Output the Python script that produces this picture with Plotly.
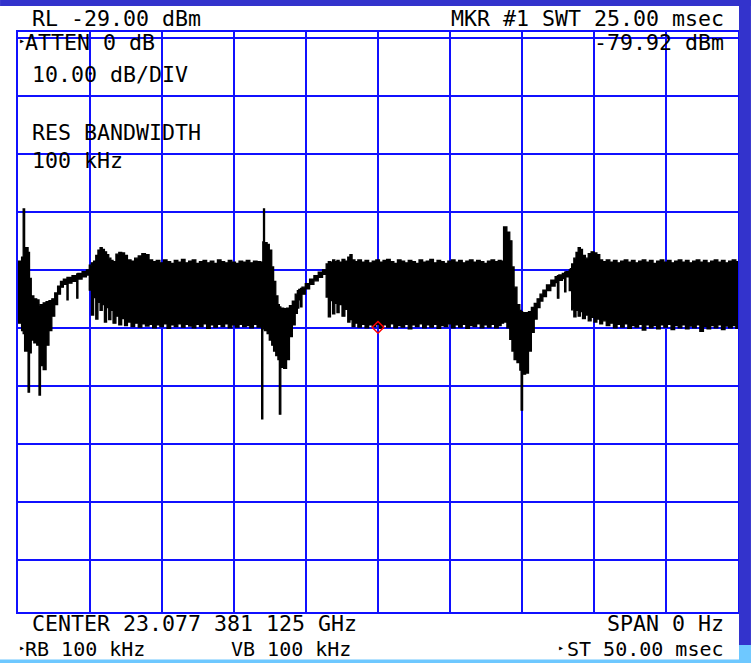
import plotly.graph_objects as go

ref_level_dbm = -29.0
db_per_div = 10.0
sweep_ms = 50.0
marker_t_ms = 25.0
marker_dbm = -79.92

# trace envelope: time (ms), max and min of the displayed trace (dBm)
t_ms = [
    0.00, 0.25, 0.36, 0.46, 0.70, 0.80, 0.92, 1.10, 1.30, 1.46, 1.56, 1.75, 1.95,
    2.15, 2.35, 2.55, 2.75, 2.95, 3.15, 3.40, 3.48, 3.75, 4.08, 4.16, 4.45, 4.75,
    4.95, 5.10, 5.25, 5.40, 5.55, 5.70, 5.85, 6.00, 6.15, 6.30, 6.45, 6.60, 6.80,
    7.00, 7.20, 7.40, 7.60, 7.85, 8.10, 8.35, 8.60, 8.85, 9.10, 9.35, 9.60, 9.85,
    10.10, 10.35, 10.60, 10.85, 11.10, 11.35, 11.60, 11.85, 12.10, 12.35, 12.60,
    12.85, 13.10, 13.35, 13.60, 13.85, 14.10, 14.35, 14.60, 14.85, 15.10, 15.35,
    15.60, 15.85, 16.10, 16.35, 16.60, 16.85, 16.92, 17.00, 17.05, 17.12, 17.30,
    17.45,
    17.62, 17.75, 17.90, 18.05, 18.15, 18.25, 18.45, 18.65, 18.85, 19.05, 19.25,
    19.40, 19.50, 19.62, 19.72, 19.95, 20.25, 20.55, 20.85, 21.15,
    21.40, 21.55, 21.70, 21.85, 22.00, 22.15, 22.30, 22.50, 22.70, 22.90, 23.05,
    23.20, 23.40, 23.60, 23.85, 24.10, 24.35, 24.60, 24.85, 25.10, 25.35, 25.60,
    25.85, 26.10, 26.35, 26.60, 26.85, 27.10, 27.35, 27.60, 27.85, 28.10, 28.35,
    28.60, 28.85, 29.10, 29.35, 29.60, 29.85, 30.10, 30.35, 30.60, 30.85, 31.10,
    31.35, 31.60, 31.85, 32.10, 32.35, 32.60, 32.85, 33.10, 33.35, 33.55, 33.72,
    33.95, 34.15,
    34.30, 34.45, 34.65, 34.85, 34.94, 35.04, 35.25, 35.45, 35.65, 35.85, 36.05,
    36.25, 36.45, 36.70, 37.00, 37.30, 37.46, 37.56, 37.80, 37.96, 38.05, 38.28,
    38.36,
    38.45, 38.60, 38.75, 38.90, 39.05, 39.20, 39.40, 39.60, 39.80, 40.00, 40.20,
    40.40, 40.60, 40.85, 41.10, 41.35, 41.60, 41.85, 42.10, 42.35, 42.60, 42.85,
    43.10, 43.35, 43.60, 43.85, 44.10, 44.35, 44.60, 44.85, 45.10, 45.35, 45.60,
    45.85, 46.10, 46.35, 46.60, 46.85, 47.10, 47.35, 47.60, 47.85, 48.10, 48.35,
    48.60, 48.85, 49.10, 49.35, 49.60, 49.85, 50.00,
]
hi_dbm = [
    -68.5, -67.8, -59.5, -66.2, -67.0, -71.5, -74.5, -75.0, -75.2, -76.1, -76.0, -75.7, -75.5,
    -75.3, -75.0, -74.0, -72.8, -72.0, -71.6, -71.3, -71.3, -71.0, -70.7, -70.6, -70.3, -70.0,
    -69.2, -68.8, -68.5, -67.5, -66.6, -66.2, -66.5, -66.9, -67.4, -68.0, -68.4, -68.6, -67.3,
    -67.0, -67.1, -67.5, -68.3, -68.5, -68.0, -67.6, -67.2, -67.4, -68.3, -68.6, -68.4, -68.8,
    -68.3, -68.6, -68.9, -68.4, -68.7, -68.2, -68.8, -68.5, -68.3, -68.9, -68.6,
    -68.4, -68.8, -68.5, -68.9, -68.3, -68.6, -68.8, -68.4, -68.7, -68.9, -68.5,
    -68.7, -68.4, -68.8, -68.5, -68.6, -68.7, -68.7, -65.2, -59.5, -65.3, -65.6,
    -66.6,
    -69.5, -72.0, -74.5, -76.0, -76.4, -76.6, -76.7, -76.6, -76.2, -75.4, -74.2,
    -73.6, -73.4, -73.2, -73.0, -72.4, -71.6, -71.0, -70.4, -70.0,
    -69.0, -68.6, -68.7, -68.3, -68.6, -68.4, -68.7, -68.2, -68.5, -67.8, -67.4,
    -68.3, -68.6, -68.3, -68.7, -68.4, -68.8, -68.5, -68.3, -68.7, -68.4, -68.2,
    -68.6, -68.9, -68.3, -68.5, -68.8, -68.4, -68.6, -68.9, -68.3, -68.7, -68.5,
    -68.2, -68.8, -68.4, -68.6, -68.9, -68.5, -68.3, -68.7, -68.4, -68.8, -68.5,
    -68.3, -68.7, -68.4, -68.6, -68.9, -68.5, -68.3, -68.6, -68.4, -68.5, -62.6,
    -63.5, -65.0,
    -69.5, -73.0, -76.0, -77.0, -77.2, -77.4, -77.4, -77.2, -76.5, -75.8, -75.0,
    -74.2, -73.5, -72.6, -71.8, -71.2, -71.0, -70.9, -70.6, -70.4, -70.3, -70.0,
    -69.8,
    -69.0, -68.0, -67.0, -66.2, -66.5, -67.5, -68.0, -67.2, -66.9, -67.1, -67.4,
    -68.3, -68.6, -68.3, -68.7, -68.4, -68.8, -68.5, -68.3, -68.7, -68.4, -68.8,
    -68.5, -68.3, -68.7, -68.4, -68.9, -68.5, -68.3, -68.7, -68.4, -68.8, -68.5,
    -68.3, -68.7, -68.4, -68.8, -68.5, -68.3, -68.7, -68.4, -68.8, -68.5, -68.3,
    -68.7, -68.4, -68.8, -68.5, -68.3, -68.6, -68.6,
]
lo_dbm = [
    -79.2, -80.5, -81.0, -84.0, -91.1, -84.3, -82.1, -82.6, -83.0, -91.6, -86.5, -87.2, -83.0,
    -80.5, -78.0, -76.0, -74.2, -73.0, -72.5, -75.2, -72.3, -72.0, -74.9, -71.6, -71.2, -70.9,
    -73.5, -77.8, -74.8, -78.5, -75.6, -77.0, -76.0, -79.0, -76.5, -78.6, -77.0, -79.2, -78.0,
    -79.5, -78.4, -79.6, -79.0, -79.8, -79.2, -79.9, -79.3, -79.7, -79.4, -80.0, -79.5, -79.8,
    -79.3, -80.1, -79.5, -79.8, -79.3, -79.9, -79.4, -79.7, -80.0, -79.4, -79.8,
    -79.3, -80.1, -79.5, -79.9, -79.4, -79.8, -79.3, -80.0, -79.5, -79.9, -79.4,
    -79.8, -79.6, -80.0, -79.4, -79.9, -79.6, -95.7, -80.0, -80.2, -80.5, -81.0,
    -82.1,
    -83.0, -84.0, -84.8, -85.5, -94.9, -86.8, -87.0, -85.5, -81.5, -79.5, -77.5,
    -76.6, -75.2, -76.4, -74.2, -73.3, -72.5, -71.9, -71.3, -70.8,
    -74.7, -78.1, -75.3, -77.6, -75.8, -77.4, -76.0, -78.0, -76.8, -79.0, -78.6,
    -79.8, -79.2, -79.9, -79.4, -80.0, -79.5, -79.8, -79.4, -80.1, -79.5, -79.9,
    -79.3, -80.0, -79.6, -79.9, -79.4, -80.2, -79.5, -79.8, -79.3, -80.0, -79.5,
    -79.9, -79.4, -80.1, -79.6, -79.8, -79.3, -80.0, -79.5, -79.9, -79.4, -80.1,
    -79.6, -79.8, -79.3, -80.0, -79.5, -79.9, -79.4, -80.0, -79.6, -79.2, -79.0,
    -80.0, -82.0,
    -84.0, -85.5, -86.0, -87.3, -94.2, -88.0, -87.8, -84.0, -80.8, -78.5, -76.5,
    -75.4, -74.6, -73.6, -72.8, -72.2, -74.9, -71.8, -71.5, -73.8, -71.2, -73.6,
    -70.8,
    -76.9, -78.1, -77.0, -78.0, -77.2, -78.4, -77.8, -78.8, -78.2, -79.0, -78.5,
    -79.3, -78.8, -79.6, -79.2, -80.0, -79.4, -79.9, -79.3, -80.1, -79.6, -79.9,
    -79.4, -80.4, -79.5, -80.0, -79.6, -80.2, -79.5, -79.9, -79.4, -80.3, -79.6,
    -80.0, -79.5, -80.2, -79.7, -80.0, -79.5, -80.6, -79.8, -80.2, -79.6, -80.0,
    -79.5, -80.3, -79.7, -80.0, -79.6, -80.1, -80.1,
]

top_left_line = "RL -29.00 dBm"
top_right_line = "MKR #1 SWT 25.00 msec"
atten_text = "ATTEN 0 dB"
scale_text = "10.00 dB/DIV"
rbw_title = "RES BANDWIDTH"
rbw_value = "100 kHz"
marker_readout = "-79.92 dBm"
center_text = "CENTER 23.077 381 125 GHz"
span_text = "SPAN 0 Hz"
rb_text = "RB 100 kHz"
vb_text = "VB 100 kHz"
st_text = "ST 50.00 msec"

# ---------------- layout geometry ----------------
W, H = 751, 663
ML, MR, MT, MB = 18, 11, 32, 51
PW, PH = W - ML - MR, H - MT - MB

GRID = "#1010ff"
FRAME = "#3333cc"
LIGHT = "#6ec8ff"
FONT = "DejaVu Sans Mono"
FS = 21.6
FS_BOTTOM = 20


def px(x):
    return (x - ML) / PW


def py(y):
    return (H - MB - y) / PH


def label(text, x, y, anchor="left", size=FS):
    return dict(text=text, x=px(x), y=py(y), xref="paper", yref="paper",
                xanchor=anchor, yanchor="middle", showarrow=False,
                borderpad=0, font=dict(family=FONT, size=size, color="black"))


fig = go.Figure()
fig.add_trace(go.Scatter(
    x=t_ms, y=hi_dbm, mode="lines",
    line=dict(color="black", width=1.3, shape="hv"),
    hoverinfo="skip", showlegend=False))
fig.add_trace(go.Scatter(
    x=t_ms, y=lo_dbm, mode="lines",
    line=dict(color="black", width=1.3, shape="hv"),
    fill="tonexty", fillcolor="black",
    hoverinfo="skip", showlegend=False))
fig.add_trace(go.Scatter(
    x=[marker_t_ms], y=[marker_dbm], mode="markers",
    marker=dict(symbol="diamond-open", size=9, color="red",
                line=dict(color="red", width=1.5)),
    hoverinfo="skip", showlegend=False))

axis_common = dict(showgrid=True, gridcolor=GRID, gridwidth=2,
                   showline=True, mirror=True, linecolor=GRID, linewidth=2,
                   zeroline=False, showticklabels=False, ticks="", fixedrange=True)
fig.update_xaxes(range=[0, sweep_ms], dtick=sweep_ms / 10, **axis_common)
fig.update_yaxes(range=[ref_level_dbm - 10 * db_per_div, ref_level_dbm],
                 dtick=db_per_div, **axis_common)

annotations = [
    label(top_left_line, 31, 18),
    label(top_right_line, 727, 18, anchor="right"),
    label("\u25b8", 18, 41, size=10),
    label(atten_text, 24, 43),
    label(marker_readout, 727, 43, anchor="right"),
    label(scale_text, 31, 75),
    label(rbw_title, 31, 133),
    label(rbw_value, 31, 161),
    label(center_text, 31, 623),
    label(span_text, 727, 623, anchor="right"),
    label("\u25b8", 18, 647, size=10),
    label(rb_text, 24, 649, size=FS_BOTTOM),
    label(vb_text, 231, 649, size=FS_BOTTOM),
    label("\u25b8", 558, 647, size=10),
    label(st_text, 727, 649, anchor="right", size=FS_BOTTOM),
]
# light-blue strip at the bottom of the screen
annotations.append(dict(text=" ", x=px(-2), y=py(659), xref="paper", yref="paper",
                        xanchor="left", yanchor="top", showarrow=False,
                        width=760, height=6, borderpad=0, bgcolor=LIGHT,
                        font=dict(size=1)))

shapes = [
    dict(type="rect", xref="paper", yref="paper", x0=px(0), x1=px(W + 2),
         y0=py(0 - 2), y1=py(6), fillcolor=FRAME, line=dict(width=0), layer="above"),
    dict(type="rect", xref="paper", yref="paper", x0=px(741), x1=px(W + 2),
         y0=py(0 - 2), y1=py(645), fillcolor=FRAME, line=dict(width=0), layer="above"),
    dict(type="rect", xref="paper", yref="paper", x0=px(741), x1=px(W + 2),
         y0=py(645), y1=py(H + 2), fillcolor=LIGHT, line=dict(width=0), layer="above"),
]

fig.update_layout(
    width=W, height=H, autosize=False,
    margin=dict(l=ML, r=MR, t=MT, b=MB, pad=0),
    paper_bgcolor="white", plot_bgcolor="white",
    showlegend=False, annotations=annotations, shapes=shapes,
)

fig.write_html("out.html")
